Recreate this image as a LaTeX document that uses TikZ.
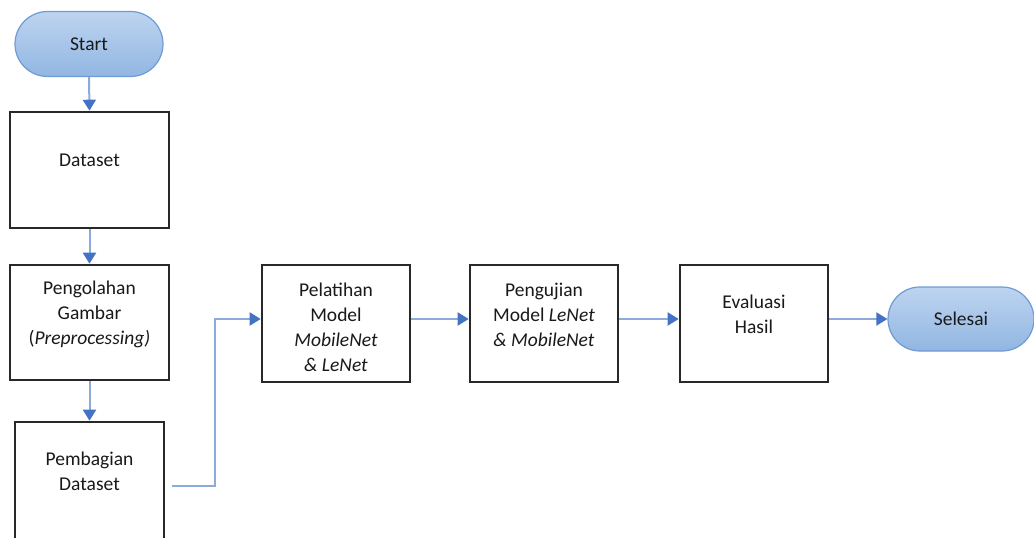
\documentclass[tikz,border=0pt]{standalone}
\usepackage{fontspec}
\setmainfont{Carlito}
\usetikzlibrary{arrows.meta,shapes.misc}
\definecolor{boxline}{RGB}{40,40,40}
\definecolor{conline}{RGB}{140,170,220}
\definecolor{arrowblue}{RGB}{68,114,196}
\definecolor{pilltop}{RGB}{190,212,240}
\definecolor{pillbot}{RGB}{145,182,226}
\definecolor{pillline}{RGB}{110,155,212}
\tikzset{
  stepbox/.style={draw=boxline,line width=2.6pt,fill=white,minimum width=#1,inner sep=0pt},
  pill/.style={rounded rectangle,draw=pillline,line width=1.2pt,top color=pilltop,bottom color=pillbot,inner sep=0pt},
  lbl/.style={font=\fontsize{19.5}{25}\selectfont,align=center,text=black!90,inner sep=0pt},
  con/.style={draw=conline,line width=2pt,-{Triangle[length=11pt,width=13pt,color=arrowblue]}},
}
\begin{document}
\begin{tikzpicture}[x=1pt,y=-1pt]
\useasboundingbox (0,0) rectangle (1034,538);
% nodes
\node[pill,minimum width=148pt,minimum height=65pt] (start) at (89,44) {};
\node[lbl] (startt) at (start.center) {Start};
\node[stepbox=159pt,minimum height=116pt] (dataset) at (89.5,170) {};
\node[lbl] (datasett) at (89.5,160) {Dataset};
\node[stepbox=159pt,minimum height=115pt] (pengolahan) at (89.5,322.5) {};
\node[lbl] (pengolahant) at (89.5,314) {Pengolahan\\Gambar\\(\textit{Preprocessing)}};
\node[stepbox=149pt,minimum height=140pt] (pembagian) at (89.5,492) {};
\node[lbl] (pembagiant) at (89.5,471) {Pembagian\\Dataset};
\node[stepbox=148pt,minimum height=117pt] (pelatihan) at (336,323.5) {};
\node[lbl] (pelatihant) at (336,327) {Pelatihan\\Model\\\textit{MobileNet}\\\textit{\& LeNet}};
\node[stepbox=148pt,minimum height=117pt] (pengujian) at (544,323.5) {};
\node[lbl] (pengujiant) at (544,315) {Pengujian\\Model \textit{LeNet}\\\textit{\& MobileNet}};
\node[stepbox=148pt,minimum height=117pt] (evaluasi) at (754,323.5) {};
\node[lbl] (evaluasit) at (754,314) {Evaluasi\\Hasil};
\node[pill,minimum width=146pt,minimum height=64pt] (selesai) at (961,319) {};
\node[lbl] (selesait) at (selesai.center) {Selesai};
% connectors
\draw[con] (start.south) -- (dataset.north);
\draw[con] (dataset.south) -- (pengolahan.north);
\draw[con] (pengolahan.south) -- (pembagian.north);
\coordinate (pbout) at (172,486);
\coordinate (bendx) at (215,486);
\draw[con] (pbout) -- (bendx) |- ([yshift=4.5pt]pelatihan.west);
\draw[con] ([yshift=4.5pt]pelatihan.east) -- ([yshift=4.5pt]pengujian.west);
\draw[con] ([yshift=4.5pt]pengujian.east) -- ([yshift=4.5pt]evaluasi.west);
\draw[con] ([yshift=4.5pt]evaluasi.east) -- (selesai.west);
\end{tikzpicture}
\end{document}
